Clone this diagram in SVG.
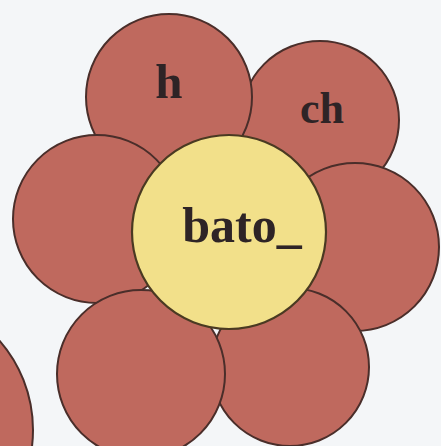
<svg xmlns="http://www.w3.org/2000/svg" width="441" height="446" viewBox="0 0 441 446">
<style>
.petal{fill:#bf695e;stroke:#4a2e2a;stroke-width:2}
.center{fill:#f2e08a;stroke:#4a3a22;stroke-width:2.2}
.lbl{font-family:"Liberation Serif",serif;font-weight:bold;fill:#2e2426;text-anchor:middle}
</style>
<rect width="441" height="446" fill="#f4f6f8"/>
<g id="petal-other"><circle class="petal" cx="-103" cy="430" r="136"/></g>
<g id="petal-ch"><circle class="petal" cx="320" cy="120" r="79"/><text class="lbl" x="322" y="123" font-size="44">ch</text></g>
<g id="petal-h"><circle class="petal" cx="169" cy="97" r="83"/><text class="lbl" x="169" y="98" font-size="49">h</text></g>
<g id="petal-left"><circle class="petal" cx="97" cy="219" r="84"/></g>
<g id="petal-right"><circle class="petal" cx="355" cy="247" r="84"/></g>
<g id="petal-bottom-right"><circle class="petal" cx="290" cy="367" r="79"/></g>
<g id="petal-bottom-left"><circle class="petal" cx="141" cy="374" r="84"/></g>
<g id="center"><circle class="center" cx="229" cy="232" r="97"/><text class="lbl" x="242" y="242" font-size="50">bato_</text></g>
</svg>
